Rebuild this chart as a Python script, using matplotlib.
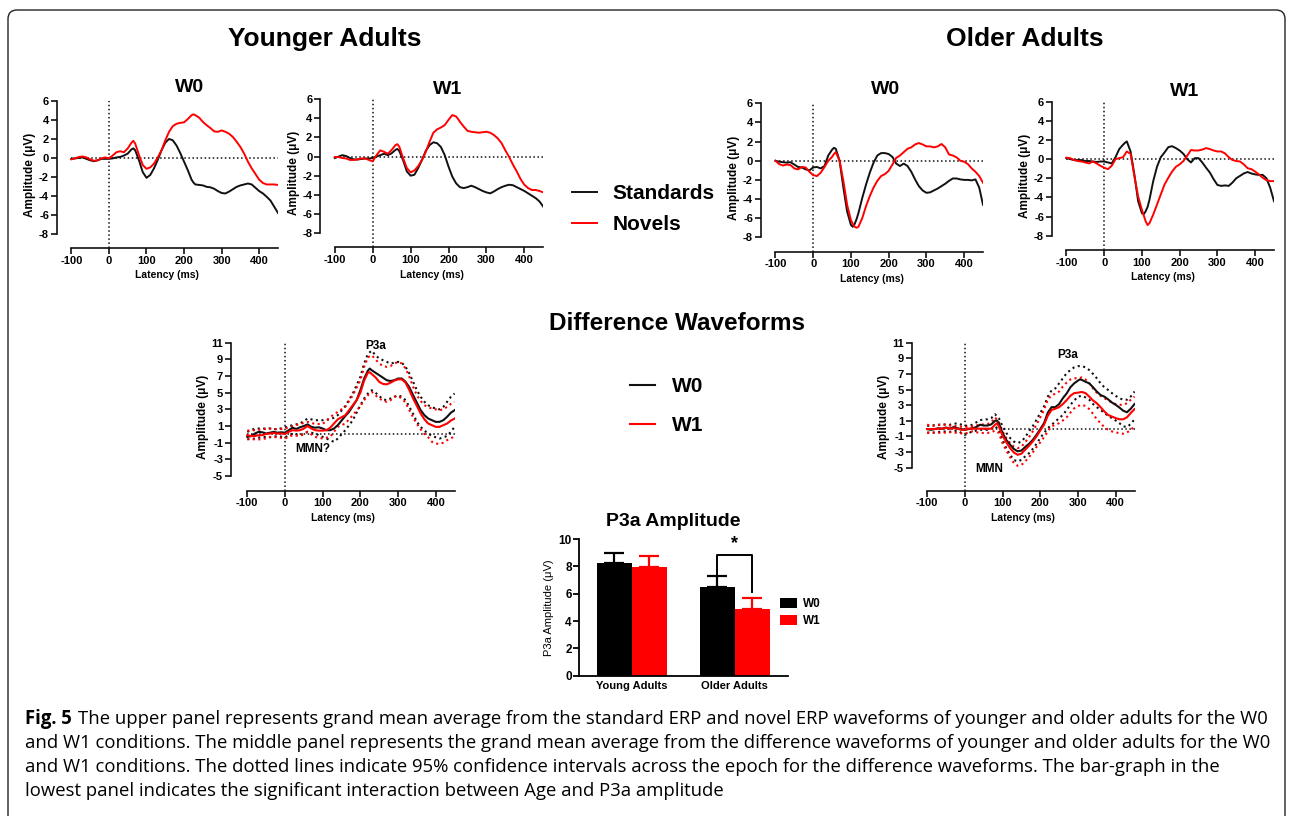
import numpy as np
import matplotlib
matplotlib.use("Agg")
import matplotlib.pyplot as plt
from matplotlib.patches import FancyBboxPatch
from matplotlib.transforms import IdentityTransform

plt.rcParams['font.family'] = ['Liberation Sans', 'DejaVu Sans']
plt.rcParams['axes.unicode_minus'] = False

# ---------------- data ----------------
# Younger adults, standards / novels (W0, W1)
t_young = [-100, -90, -80, -70, -60, -50, -40, -30, -20, -10, 0, 10, 20, 30, 40, 50, 60, 65,
           70, 80, 90, 100, 110, 120, 130, 140, 150, 160, 170, 180, 190, 200, 210, 220, 225,
           230, 240, 250, 260, 270, 280, 290, 300, 310, 320, 330, 340, 350, 360, 370, 380,
           390, 400, 410, 420, 430, 440, 450]
yw0_std = [-0.1, -0.05, 0, 0.05, -0.1, -0.25, -0.35, -0.25, -0.1, -0.1, -0.1, -0.05, 0.05, 0.1,
           0.25, 0.45, 0.9, 1.0, 0.8, -0.25, -1.5, -2.1, -1.8, -1.1, -0.2, 0.8, 1.6, 2.0, 1.85,
           1.3, 0.5, -0.4, -1.3, -2.3, -2.6, -2.8, -2.85, -2.9, -3.05, -3.1, -3.25, -3.5, -3.7,
           -3.75, -3.55, -3.3, -3.05, -2.9, -2.8, -2.7, -2.8, -3.15, -3.5, -3.75, -4.1, -4.5,
           -5.15, -5.8]
yw0_nov = [-0.15, -0.05, 0.1, 0.15, 0.05, -0.15, -0.3, -0.25, -0.05, 0.05, -0.05, 0.25, 0.6, 0.7,
           0.6, 1.0, 1.6, 1.8, 1.5, 0.3, -0.75, -1.15, -1.0, -0.6, 0.05, 0.8, 1.85, 2.75, 3.35,
           3.6, 3.7, 3.75, 4.1, 4.5, 4.6, 4.5, 4.25, 3.8, 3.45, 3.15, 2.8, 2.75, 2.9, 2.75, 2.55,
           2.2, 1.7, 1.15, 0.45, -0.4, -1.1, -1.7, -2.3, -2.65, -2.8, -2.8, -2.8, -2.85]
yw1_std = [-0.15, 0, 0.15, 0.05, -0.15, -0.3, -0.3, -0.25, -0.2, -0.2, -0.15, 0, 0.15, 0.3, 0.15,
           0.35, 0.7, 0.8, 0.6, -0.35, -1.55, -2.0, -1.9, -1.2, -0.35, 0.6, 1.2, 1.5, 1.4, 1.0,
           0.15, -1.05, -2.1, -2.8, -3.0, -3.2, -3.3, -3.2, -3.05, -3.2, -3.4, -3.6, -3.75, -3.85,
           -3.65, -3.4, -3.2, -3.05, -2.95, -3.0, -3.2, -3.4, -3.6, -3.85, -4.1, -4.35, -4.7,
           -5.25]
yw1_nov = [-0.05, -0.05, -0.15, -0.2, -0.35, -0.35, -0.3, -0.2, -0.2, -0.35, -0.5, 0.15, 0.65,
           0.5, 0.3, 0.7, 1.2, 1.3, 1.05, -0.15, -1.2, -1.65, -1.45, -1.0, -0.35, 0.5, 1.55, 2.5,
           2.85, 3.05, 3.3, 3.85, 4.35, 4.2, 3.95, 3.65, 3.15, 2.7, 2.6, 2.55, 2.5, 2.55, 2.6,
           2.5, 2.25, 1.9, 1.4, 0.65, -0.05, -0.85, -1.55, -2.35, -2.95, -3.3, -3.5, -3.5, -3.6,
           -3.75]

# Older adults, standards / novels (W0, W1)
t_old = [-100, -90, -80, -70, -60, -50, -40, -30, -20, -10, 0, 10, 20, 30, 40, 50, 55, 60, 70,
         80, 90, 100, 105, 110, 115, 120, 130, 140, 150, 160, 170, 180, 190, 200, 210, 220, 230,
         240, 250, 260, 270, 280, 290, 300, 310, 320, 330, 340, 350, 360, 370, 380, 390, 400,
         410, 420, 430, 440, 450]
ow0_std = [0, -0.1, -0.15, -0.2, -0.15, -0.4, -0.65, -0.7, -0.9, -1.0, -0.7, -0.65, -0.8, -0.55,
           0.55, 1.15, 1.35, 1.25, 0, -2.8, -5.3, -6.7, -6.9, -6.6, -6.1, -5.45, -3.9, -2.5,
           -1.25, -0.2, 0.55, 0.8, 0.8, 0.7, 0.4, -0.3, -0.55, -0.3, -0.55, -1.15, -1.95, -2.65,
           -3.1, -3.35, -3.3, -3.1, -2.9, -2.65, -2.4, -2.1, -1.85, -1.85, -1.95, -2.0, -2.0,
           -2.05, -1.95, -2.8, -4.6]
ow0_nov = [0, -0.35, -0.5, -0.4, -0.45, -0.8, -0.9, -0.65, -0.7, -1.15, -1.5, -1.6, -1.25, -0.65,
           0, 0.4, 0.7, 0.9, 0, -2.1, -4.6, -6.2, -6.6, -6.9, -7.0, -6.9, -6.0, -4.75, -3.7,
           -2.8, -2.1, -1.6, -1.4, -1.05, -0.4, 0.3, 0.55, 0.9, 1.25, 1.4, 1.7, 1.85, 1.7, 1.5,
           1.5, 1.4, 1.5, 1.75, 1.4, 0.65, 0.55, 0.35, 0, -0.1, -0.35, -0.8, -1.15, -1.6, -2.3]
ow1_std = [0.1, 0, -0.1, -0.1, -0.1, -0.2, -0.2, -0.25, -0.3, -0.25, -0.25, -0.35, -0.45, 0.2,
           1.05, 1.5, 1.7, 1.85, 0.8, -1.6, -4.4, -5.65, -5.75, -5.45, -5.0, -4.25, -2.3, -0.8,
           0.2, 0.7, 1.25, 1.35, 1.15, 0.9, 0.55, 0, -0.35, 0.1, 0.1, -0.35, -0.9, -1.4, -2.1,
           -2.7, -2.8, -2.75, -2.8, -2.45, -2.0, -1.75, -1.5, -1.35, -1.5, -1.6, -1.65, -1.65,
           -2.0, -3.0, -4.4]
ow1_nov = [0.15, 0.1, -0.1, -0.2, -0.25, -0.35, -0.45, -0.25, -0.45, -0.7, -0.9, -1.05, -0.7, 0,
           0.1, 0.2, 0.5, 0.8, 0.55, -1.75, -3.9, -5.3, -5.9, -6.5, -6.9, -6.7, -5.8, -4.75,
           -3.7, -2.65, -1.95, -1.3, -0.8, -0.55, -0.2, 0.35, 0.95, 0.9, 0.9, 1.0, 1.15, 1.05,
           0.9, 0.8, 0.8, 0.6, 0.2, -0.1, -0.2, -0.25, -0.55, -0.95, -1.05, -1.3, -1.6, -1.95,
           -2.2, -2.3, -2.3]

# Difference waveforms, younger adults
t_dy = [-100, -90, -80, -70, -60, -50, -40, -30, -20, -10, 0, 10, 20, 30, 40, 50, 60, 70, 80,
        90, 100, 110, 120, 130, 140, 150, 160, 170, 180, 190, 200, 210, 220, 225, 230, 240, 250,
        260, 270, 280, 290, 300, 310, 320, 330, 340, 350, 360, 370, 380, 390, 400, 410, 420,
        430, 440, 450]
dy_w0 = [-0.3, -0.2, 0.1, 0.3, 0.25, 0.1, 0.2, 0.3, 0.2, 0.25, 0.2, 0.5, 0.8, 0.65, 0.85, 1.0,
         1.2, 0.9, 0.8, 0.85, 0.7, 0.5, 0.5, 0.7, 1.1, 1.65, 2.2, 2.7, 3.4, 4.1, 5.3, 6.7, 7.65,
         7.9, 7.7, 7.4, 7.1, 6.8, 6.5, 6.4, 6.5, 6.7, 6.7, 6.3, 5.65, 4.7, 3.8, 2.9, 2.3, 1.9,
         1.7, 1.5, 1.5, 1.7, 2.1, 2.6, 2.9]
dy_w1 = [-0.1, -0.2, -0.2, -0.1, -0.1, 0.05, 0.1, 0.15, 0.1, 0.1, 0.05, 0.3, 0.5, 0.45, 0.5,
         0.7, 1.0, 0.7, 0.5, 0.45, 0.45, 0.5, 0.8, 1.3, 1.8, 2.05, 2.3, 2.9, 3.5, 4.1, 5.0,
         6.45, 7.4, 7.45, 7.25, 6.85, 6.3, 6.05, 6.0, 6.2, 6.45, 6.6, 6.6, 6.2, 5.3, 4.3, 3.4,
         2.5, 1.8, 1.3, 1.1, 0.9, 0.9, 1.1, 1.3, 1.65, 1.9]
t_ci_young = [-100, -80, -60, -40, -20, 0, 20, 40, 60, 80, 100, 120, 130, 140, 160, 180, 200,
              210, 220, 230, 240, 250, 260, 270, 280, 290, 300, 310, 320, 330, 340, 350, 360,
              370, 380, 390, 400, 410, 420, 430, 440, 450]
dy_w0_hi = [0.3, 0.7, 0.7, 0.7, 0.6, 0.85, 1.1, 1.3, 1.9, 1.7, 1.7, 1.8, 2.0, 2.3, 3.4, 4.9, 6.9,
            8.5, 9.65, 10.05, 9.5, 9.1, 8.9, 8.7, 8.5, 8.6, 8.7, 8.6, 8.1, 7.3, 6.3, 5.3, 4.5,
            3.9, 3.5, 3.25, 3.1, 3.0, 3.3, 3.9, 4.5, 4.9]
dy_w0_lo = [-0.6, -0.5, -0.3, -0.35, -0.2, -0.35, 0.1, -0.1, 0.3, 0.1, -0.3, -0.7, -0.9, -0.5,
            0.5, 1.7, 3.5, 4.3, 4.9, 5.3, 5.0, 4.6, 4.2, 4.1, 4.3, 4.5, 4.7, 4.5, 4.1, 3.3, 2.45,
            1.5, 0.9, 0.45, 0.1, -0.2, -0.35, -0.5, -0.35, -0.2, 0.3, 0.9]
dy_w1_hi = [0.45, 0.5, 0.6, 0.7, 0.6, 0.7, 1.0, 1.25, 1.5, 1.25, 1.25, 2.05, 2.4, 2.7, 3.3, 4.7,
            6.5, 8.1, 9.25, 9.5, 9.0, 8.5, 8.2, 8.1, 8.2, 8.5, 8.7, 8.5, 7.9, 6.9, 5.7, 4.7, 4.0,
            3.5, 3.25, 3.1, 3.0, 2.9, 3.0, 3.3, 3.65, 3.9]
dy_w1_lo = [-0.5, -0.6, -0.6, -0.3, -0.35, -0.5, -0.1, -0.2, 0.3, -0.3, -0.5, -0.3, 0.3, 0.9,
            1.3, 2.3, 3.4, 4.1, 4.7, 5.1, 4.7, 4.3, 4.05, 3.9, 4.1, 4.5, 4.6, 4.3, 3.8, 2.9, 2.05,
            1.25, 0.6, 0.05, -0.35, -0.9, -1.1, -1.15, -1.0, -0.7, -0.5, -0.2]

# Difference waveforms, older adults
t_do = [-100, -90, -80, -70, -60, -50, -40, -30, -20, -10, 0, 10, 20, 30, 40, 50, 60, 70, 80,
        85, 90, 100, 110, 120, 130, 140, 150, 160, 170, 180, 190, 200, 210, 220, 230, 240, 250,
        260, 270, 280, 290, 300, 305, 310, 320, 330, 340, 350, 360, 370, 380, 390, 400, 410,
        420, 430, 440, 450]
do_w0 = [-0.05, -0.15, -0.05, 0.05, 0.0, 0.15, 0.0, 0.2, 0.05, -0.05, -0.15, -0.05, 0.05, 0.2,
         0.5, 0.4, 0.4, 0.55, 1.0, 1.05, 0.7, -0.55, -1.45, -2.05, -2.6, -2.9, -2.8, -2.35,
         -1.95, -1.45, -0.8, -0.05, 0.7, 2.05, 2.75, 2.75, 3.15, 3.9, 4.5, 5.3, 5.8, 6.15, 6.3,
         6.25, 6.0, 5.8, 5.3, 4.75, 4.3, 4.1, 3.75, 3.35, 3.05, 2.7, 2.3, 2.1, 2.55, 3.15]
do_w1 = [-0.05, -0.05, -0.05, 0.0, 0.0, 0.1, 0.0, 0.05, 0.0, -0.15, -0.15, 0.0, 0.0, 0.0, 0.0,
         0.0, 0.0, 0.0, 0.5, 0.7, 0.3, -0.9, -1.75, -2.5, -3.05, -3.35, -3.2, -2.7, -2.2, -1.65,
         -1.0, -0.25, 0.5, 1.65, 2.4, 2.55, 2.75, 3.15, 3.65, 4.2, 4.55, 4.6, 4.65, 4.7, 4.55,
         4.1, 3.6, 3.25, 2.75, 2.2, 1.75, 1.55, 1.35, 1.2, 1.2, 1.45, 2.0, 2.5]
t_ci_old = [-100, -80, -60, -40, -20, 0, 20, 40, 60, 70, 80, 90, 100, 110, 120, 130, 140, 150,
            160, 170, 180, 190, 200, 210, 220, 230, 240, 250, 260, 270, 280, 290, 300, 310, 320,
            330, 340, 350, 360, 370, 380, 390, 400, 410, 420, 430, 440, 450]
do_w0_hi = [0.35, 0.45, 0.55, 0.5, 0.7, 0.35, 0.5, 1.1, 1.2, 1.35, 1.85, 1.35, 0.3, -0.55, -1.2,
            -1.65, -1.85, -1.65, -1.1, -0.35, 0.3, 1.15, 2.0, 2.85, 4.1, 4.9, 5.15, 5.8, 6.45,
            7.1, 7.5, 7.85, 8.0, 8.0, 7.85, 7.5, 7.0, 6.45, 5.8, 5.3, 4.95, 4.55, 4.2, 3.9, 3.7,
            3.7, 4.1, 4.75]
do_w0_lo = [-0.5, -0.5, -0.35, -0.4, -0.25, -0.8, -0.35, -0.15, -0.15, 0.0, 0.3, -0.15, -1.45,
            -2.5, -3.35, -4.0, -4.2, -4.0, -3.55, -3.15, -2.6, -1.95, -1.2, -0.55, 0.05, 0.5,
            0.9, 1.35, 1.75, 2.4, 3.05, 3.6, 4.1, 4.2, 4.0, 3.7, 3.15, 2.75, 2.4, 2.0, 1.65,
            1.35, 1.05, 0.7, 0.3, 0.2, 0.6, 1.2]
do_w1_hi = [0.5, 0.35, 0.55, 0.4, 0.3, 0.2, 0.3, 0.5, 0.6, 0.8, 1.45, 0.9, -0.35, -1.2, -1.85,
            -2.3, -2.5, -2.3, -1.75, -1.1, -0.35, 0.5, 1.45, 2.4, 3.7, 4.3, 4.45, 4.75, 5.4, 5.9,
            6.3, 6.45, 6.45, 6.55, 6.3, 5.8, 5.15, 4.6, 4.2, 3.9, 3.6, 3.35, 3.15, 3.05, 3.05,
            3.25, 3.7, 4.1]
do_w1_lo = [-0.55, -0.5, -0.55, -0.45, -0.55, -0.65, -0.35, -0.55, -0.55, -0.45, -0.25, -0.55,
            -1.85, -2.8, -3.65, -4.4, -4.75, -4.65, -4.2, -3.65, -3.05, -2.35, -1.75, -1.1,
            -0.35, 0.3, 0.5, 0.7, 1.05, 1.45, 2.05, 2.6, 2.9, 3.05, 2.9, 2.5, 1.9, 1.2, 0.7, 0.2,
            -0.15, -0.35, -0.5, -0.55, -0.65, -0.5, -0.15, 0.3]

# P3a amplitude bar graph
groups = ["Young Adults", "Older Adults"]
p3a_w0 = [8.25, 6.5]
p3a_w1 = [7.95, 4.85]
p3a_w0_err = [0.75, 0.77]
p3a_w1_err = [0.8, 0.8]

erp_ticks = [-8, -6, -4, -2, 0, 2, 4, 6]
diff_ticks = [-5, -3, -1, 1, 3, 5, 7, 9, 11]
lat_ticks = [-100, 0, 100, 200, 300, 400]

# ---------------- figure ----------------
W, H = 1292, 816
fig = plt.figure(figsize=(W / 100, H / 100), dpi=100)
RED = '#ff0000'
BLK = '#111111'


def rect(l, t, r, b):
    return [l / W, 1 - b / H, (r - l) / W, (b - t) / H]


def fx(x):
    return x / W


def fy(y):
    return 1 - y / H


def style_axis(ax, xmin, ymin, ymax, yticks, ylabel_fs=8.5):
    ax.set_xlim(xmin, 450)
    ax.set_ylim(ymin, ymax)
    ax.patch.set_alpha(0)
    for s in ['top', 'right']:
        ax.spines[s].set_visible(False)
    for s in ['left', 'bottom']:
        ax.spines[s].set_linewidth(1.2)
        ax.spines[s].set_color(BLK)
    ax.spines['left'].set_bounds(yticks[0], yticks[-1])
    ax.spines['bottom'].set_bounds(-100, 450)
    ax.set_yticks(yticks)
    ax.set_xticks(lat_ticks)
    ax.tick_params(axis='both', direction='out', length=4, width=1.2, color=BLK,
                   labelsize=8, pad=1.5)
    for lab in ax.get_xticklabels() + ax.get_yticklabels():
        lab.set_fontweight('bold')
    ax.set_xlabel('Latency (ms)', fontsize=7.5, fontweight='bold', labelpad=3.5)
    ax.set_ylabel('Amplitude (\u03bcV)', fontsize=ylabel_fs, fontweight='bold', labelpad=2)
    ax.axvline(0, color=BLK, ls=':', lw=1.1)
    ax.hlines(0, -100, 450, color=BLK, ls=':', lw=1.1)


# top ERP panels
top_panels = [
    (rect(56.7, 101, 278, 248), t_young, yw0_std, yw0_nov),
    (rect(320, 99.3, 543.3, 247.3), t_young, yw1_std, yw1_nov),
    (rect(760.7, 103.3, 983, 251.7), t_old, ow0_std, ow0_nov),
    (rect(1051.7, 101.7, 1274, 250), t_old, ow1_std, ow1_nov),
]
erp_axes = []
for pos, t, s_std, s_nov in top_panels:
    ax = fig.add_axes(pos)
    style_axis(ax, -139, -9.5, 6, erp_ticks)
    l1, = ax.plot(t, s_std, color=BLK, lw=1.4, label='Standards')
    l2, = ax.plot(t, s_nov, color=RED, lw=1.4, label='Novels')
    erp_axes.append((ax, l1, l2))

for txt, x, y in [('W0', 190, 88), ('W1', 448, 89), ('W0', 886, 89), ('W1', 1185, 92)]:
    fig.text(fx(x), fy(y), txt, fontsize=14, fontweight='bold', ha='center', va='center')

fig.text(fx(325), fy(39), 'Younger Adults', fontsize=19, fontweight='bold', ha='center', va='center')
fig.text(fx(1025), fy(39), 'Older Adults', fontsize=19, fontweight='bold', ha='center', va='center')
fig.text(fx(677), fy(324), 'Difference Waveforms', fontsize=17.5, fontweight='bold',
         ha='center', va='center')

_, hl1, hl2 = erp_axes[0]
fig.legend(handles=[hl1, hl2], labels=['Standards', 'Novels'], loc='center left',
           bbox_to_anchor=(fx(572), fy(209)), frameon=False, borderpad=0, borderaxespad=0,
           handlelength=1.2, handletextpad=0.75, labelspacing=0.58,
           prop={'size': 15, 'weight': 'bold'})

# difference waveform panels
diff_panels = [
    (rect(230.7, 342.7, 454.6, 490.7), -144, -6.76, t_dy, dy_w0, dy_w1, t_ci_young,
     dy_w0_hi, dy_w0_lo, dy_w1_hi, dy_w1_lo, (240, 10.6, 'P3a'), (75, -1.8, 'MMN?')),
    (rect(911.7, 342.7, 1134.5, 490.7), -141, -7.94, t_do, do_w0, do_w1, t_ci_old,
     do_w0_hi, do_w0_lo, do_w1_hi, do_w1_lo, (274, 9.4, 'P3a'), (65, -5.2, 'MMN')),
]
diff_handles = None
for (pos, xmin, ymin, t, s0, s1, tci, h0, lo0, h1, lo1, ann1, ann2) in diff_panels:
    ax = fig.add_axes(pos)
    style_axis(ax, xmin, ymin, 11, diff_ticks)
    ax.plot(tci, h0, color=BLK, ls=':', lw=1.5)
    ax.plot(tci, lo0, color=BLK, ls=':', lw=1.5)
    ax.plot(tci, h1, color=RED, ls=':', lw=1.5)
    ax.plot(tci, lo1, color=RED, ls=':', lw=1.5)
    d1, = ax.plot(t, s0, color=BLK, lw=1.5, label='W0')
    d2, = ax.plot(t, s1, color=RED, lw=1.5, label='W1')
    for (xa, ya, ta) in (ann1, ann2):
        ax.text(xa, ya, ta, fontsize=8.5, fontweight='bold', ha='center', va='center')
    if diff_handles is None:
        diff_handles = [d1, d2]

fig.legend(handles=diff_handles, labels=['W0', 'W1'], loc='center left',
           bbox_to_anchor=(fx(630), fy(406)), frameon=False, borderpad=0, borderaxespad=0,
           handlelength=1.2, handletextpad=0.8, labelspacing=0.95,
           prop={'size': 15, 'weight': 'bold'})

# P3a bar graph
axb = fig.add_axes(rect(579.3, 539, 788, 675.7))
xg = np.arange(len(groups))
bw = 0.335
off = 0.17
b0 = axb.bar(xg - off, p3a_w0, bw, color='black', label='W0', zorder=2)
b1 = axb.bar(xg + off, p3a_w1, bw, color=RED, label='W1', zorder=2)
axb.errorbar(xg - off, p3a_w0, yerr=[np.zeros(2), p3a_w0_err], fmt='none', ecolor='black',
             elinewidth=1.6, capsize=7, capthick=1.6, zorder=1)
axb.errorbar(xg + off, p3a_w1, yerr=[np.zeros(2), p3a_w1_err], fmt='none', ecolor=RED,
             elinewidth=1.6, capsize=7, capthick=1.6, zorder=1)
axb.set_xlim(-0.51, 1.515)
axb.set_ylim(0, 10)
axb.patch.set_alpha(0)
for s in ['top', 'right']:
    axb.spines[s].set_visible(False)
for s in ['left', 'bottom']:
    axb.spines[s].set_linewidth(1.3)
axb.set_yticks([0, 2, 4, 6, 8, 10])
axb.set_xticks(xg)
axb.set_xticklabels(groups)
axb.tick_params(axis='y', direction='out', length=4, width=1.3, labelsize=8.5, pad=1.5)
axb.tick_params(axis='x', direction='out', length=0, labelsize=8, pad=4)
for lab in axb.get_xticklabels() + axb.get_yticklabels():
    lab.set_fontweight('bold')
axb.set_ylabel('P3a Amplitude (\u03bcV)', fontsize=8, labelpad=3)
# significance bracket for older adults
y_top = max(p3a_w0[1] + p3a_w0_err[1], p3a_w1[1] + p3a_w1_err[1]) + 1.55
axb.plot([xg[1] - off, xg[1] - off, xg[1] + off, xg[1] + off],
         [p3a_w0[1] + p3a_w0_err[1] + 0.18, y_top, y_top, p3a_w1[1] + p3a_w1_err[1] + 0.5],
         color='black', lw=1.4)
axb.text(xg[1], y_top + 0.25, '*', fontsize=13, fontweight='bold', ha='center', va='bottom')
fig.text(fx(673), fy(521), 'P3a Amplitude', fontsize=14, fontweight='bold', ha='center',
         va='center')
fig.legend(handles=[b0, b1], labels=['W0', 'W1'], loc='center left',
           bbox_to_anchor=(fx(780), fy(612.5)), frameon=False, borderpad=0, borderaxespad=0,
           handlelength=1.45, handleheight=0.95, handletextpad=0.5, labelspacing=0.4,
           prop={'size': 8.5, 'weight': 'bold'})

# caption
cap_fs = 13.35
fig.canvas.draw()
r = fig.canvas.get_renderer()
t_fig = fig.text(fx(25), fy(719), 'Fig. 5', fontsize=cap_fs, fontweight='bold',
                 family='Open Sans', va='center', ha='left')
bb = t_fig.get_window_extent(renderer=r)
fig.text((bb.x1 + 6) / W, fy(719),
         'The upper panel represents grand mean average from the standard ERP and novel ERP '
         'waveforms of younger and older adults for the W0',
         fontsize=cap_fs, family='Open Sans', va='center', ha='left')
cap_lines = [
    'and W1 conditions. The middle panel represents the grand mean average from the difference '
    'waveforms of younger and older adults for the W0',
    'and W1 conditions. The dotted lines indicate 95% confidence intervals across the epoch for '
    'the difference waveforms. The bar-graph in the',
    'lowest panel indicates the significant interaction between Age and P3a amplitude',
]
for i, line in enumerate(cap_lines):
    fig.text(fx(25), fy(743 + 24 * i), line, fontsize=cap_fs, family='Open Sans',
             va='center', ha='left')

# frame
frame = FancyBboxPatch((8, -30), 1277, 836, boxstyle='round,pad=0,rounding_size=9',
                       transform=IdentityTransform(), fill=False, ec='#222222', lw=1.0)
fig.add_artist(frame)

fig.savefig('out.png', dpi=100)
